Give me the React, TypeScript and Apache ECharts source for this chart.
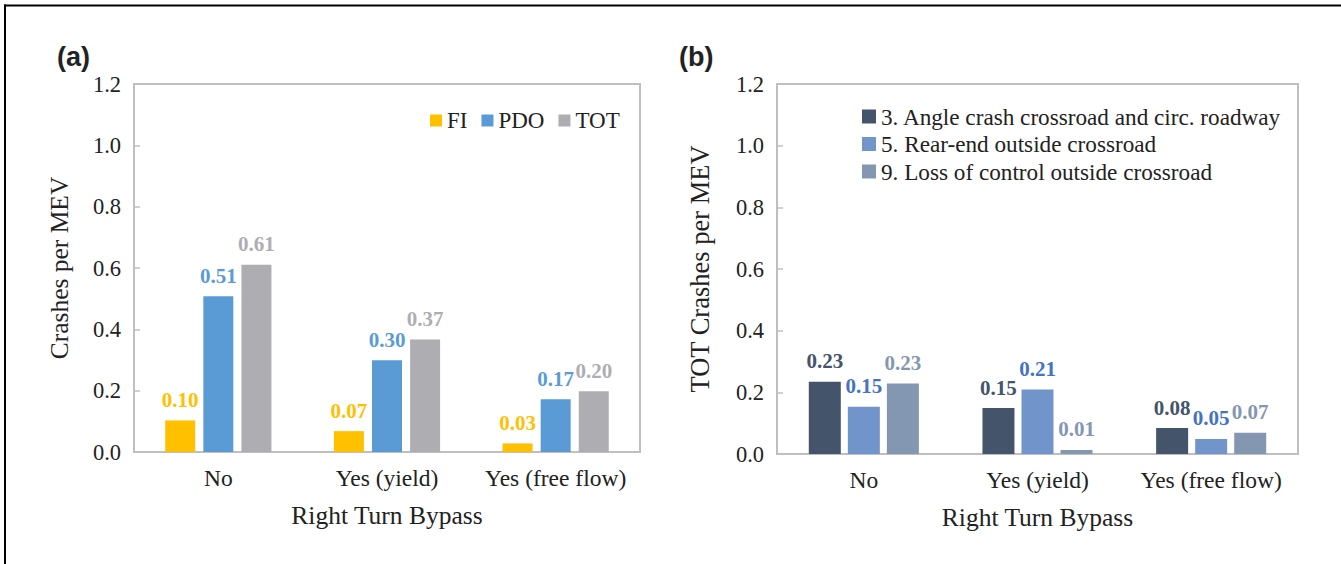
import React, { useEffect, useRef } from "react";
import * as echarts from "echarts";

const categories = ["No", "Yes (yield)", "Yes (free flow)"];
const fiValues = [0.103, 0.068, 0.028];
const pdoValues = [0.508, 0.299, 0.172];
const totValues = [0.611, 0.367, 0.198];
const angleValues = [0.234, 0.149, 0.084];
const rearEndValues = [0.153, 0.209, 0.049];
const lossValues = [0.229, 0.013, 0.069];
const legendA = ["FI", "PDO", "TOT"];
const legendB = [
  "3. Angle crash crossroad and circ. roadway",
  "5. Rear-end outside crossroad",
  "9. Loss of control outside crossroad",
];

const SERIF = "Liberation Serif";
const TXT = "#222222";
const AXIS = "#BFBFBF";

function makeBar(name: string, data: number[], idx: number, color: string, labelColor: string, barWidth: number, gap: string) {
  return {
    type: "bar",
    name,
    data,
    xAxisIndex: idx,
    yAxisIndex: idx,
    barWidth,
    barGap: gap,
    itemStyle: { color },
    label: {
      show: true,
      position: "top",
      distance: 10,
      color: labelColor,
      fontFamily: SERIF,
      fontWeight: "bold",
      fontSize: 21,
      formatter: (p: any) => Number(p.value).toFixed(2),
    },
  };
}

function makeX(idx: number) {
  return {
    type: "category",
    gridIndex: idx,
    data: categories,
    name: "Right Turn Bypass",
    nameLocation: "middle",
    nameGap: 50,
    nameTextStyle: { fontFamily: SERIF, fontSize: 25.5, color: TXT },
    axisLine: { show: true, lineStyle: { color: AXIS, width: 2 } },
    axisTick: { show: false },
    axisLabel: { interval: 0, margin: 14, fontFamily: SERIF, fontSize: 23.5, color: TXT },
    splitLine: { show: false },
  };
}

function makeY(idx: number, name: string, gap: number, size: number) {
  return {
    type: "value",
    gridIndex: idx,
    min: 0,
    max: 1.2,
    interval: 0.2,
    name,
    nameLocation: "middle",
    nameGap: gap,
    nameTextStyle: { fontFamily: SERIF, fontSize: size, color: TXT },
    axisLine: { show: true, lineStyle: { color: AXIS, width: 2 } },
    axisTick: { show: true, inside: true, length: 6, lineStyle: { color: AXIS, width: 1.5 } },
    axisLabel: {
      margin: 13,
      fontFamily: SERIF,
      fontSize: 22.5,
      color: TXT,
      formatter: (v: number) => v.toFixed(1),
    },
    splitLine: { show: false },
  };
}

export default function App() {
  const ref = useRef<HTMLDivElement>(null);
  useEffect(() => {
    document.body.style.margin = "0";
    const chart = echarts.init(ref.current!, null, { renderer: "svg" });
    chart.setOption({
      animation: false,
      backgroundColor: "#ffffff",
      grid: [
        { left: 134, top: 84, width: 506, height: 368, show: true, borderColor: AXIS, borderWidth: 2, backgroundColor: "transparent" },
        { left: 777, top: 84, width: 521, height: 370, show: true, borderColor: AXIS, borderWidth: 2, backgroundColor: "transparent" },
      ],
      xAxis: [makeX(0), makeX(1)],
      yAxis: [makeY(0, "Crashes per MEV", 62, 25.5), makeY(1, "TOT Crashes per MEV", 64, 26.5)],
      legend: [
        {
          data: legendA,
          left: 425,
          top: 104,
          orient: "horizontal",
          icon: "rect",
          itemWidth: 12,
          itemHeight: 12,
          itemGap: 14,
          textStyle: { fontFamily: SERIF, fontSize: 23, color: TXT },
        },
        {
          data: legendB,
          left: 857,
          top: 100,
          orient: "vertical",
          icon: "rect",
          itemWidth: 14,
          itemHeight: 14,
          itemGap: 4.5,
          textStyle: { fontFamily: SERIF, fontSize: 23.2, color: TXT },
        },
      ],
      graphic: [
        { type: "line", shape: { x1: 4, y1: 5.5, x2: 1341, y2: 5.5 }, style: { stroke: "#000", lineWidth: 2 } },
        { type: "line", shape: { x1: 5, y1: 4.5, x2: 5, y2: 564 }, style: { stroke: "#000", lineWidth: 2 } },
        { type: "text", left: 57, top: 43, style: { text: "(a)", fontFamily: "Liberation Sans", fontWeight: "bold", fontSize: 27, fill: "#222" } },
        { type: "text", left: 679, top: 43, style: { text: "(b)", fontFamily: "Liberation Sans", fontWeight: "bold", fontSize: 27, fill: "#222" } },
      ],
      series: [
        makeBar("FI", fiValues, 0, "#FFC000", "#FFC000", 30, "27%"),
        makeBar("PDO", pdoValues, 0, "#5B9BD5", "#5B9BD5", 30, "27%"),
        makeBar("TOT", totValues, 0, "#AEAEB2", "#AEAEB2", 30, "27%"),
        makeBar(legendB[0], angleValues, 1, "#44546A", "#44546A", 32, "22%"),
        makeBar(legendB[1], rearEndValues, 1, "#7195CB", "#4472C4", 32, "22%"),
        makeBar(legendB[2], lossValues, 1, "#8497B0", "#8497B0", 32, "22%"),
      ],
    });
    return () => chart.dispose();
  }, []);
  return <div ref={ref} style={{ width: 1341, height: 564 }} />;
}
